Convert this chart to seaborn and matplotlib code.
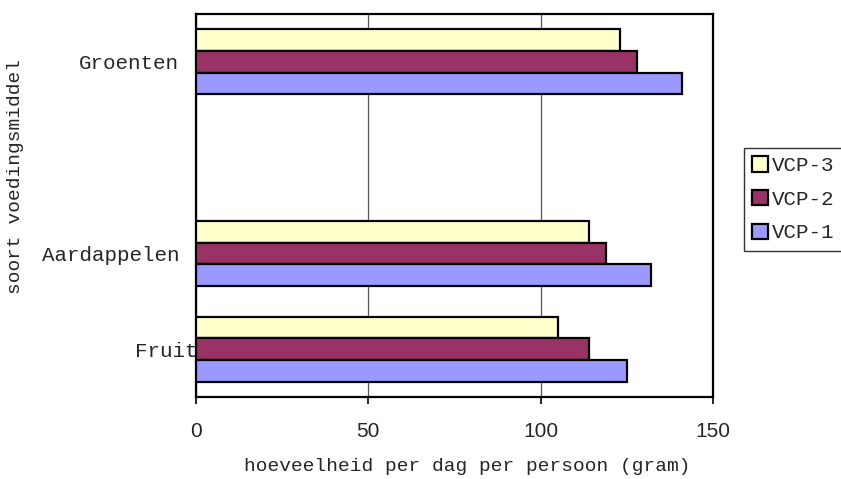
import matplotlib
matplotlib.use("Agg")
import matplotlib.pyplot as plt
import matplotlib.patches as mpatches
from matplotlib.transforms import ScaledTranslation
import pandas as pd
import seaborn as sns

# Food categories (top to bottom); the empty slot keeps the gap below Groenten
categories = ["Groenten", "", "Aardappelen", "Fruit"]
food = ["Groenten", "Aardappelen", "Fruit"]
series = ["VCP-3", "VCP-2", "VCP-1"]
vcp3 = [123, 114, 105]
vcp2 = [128, 119, 114]
vcp1 = [141, 132, 125]
x_ticks = [0, 50, 100, 150]
colors = {"VCP-3": "#FFFFCC", "VCP-2": "#993366", "VCP-1": "#9999FF"}

rows = []
for name, vals in zip(series, [vcp3, vcp2, vcp1]):
    for cat, v in zip(food, vals):
        rows.append({"soort": cat, "reeks": name, "gram": v})
df = pd.DataFrame(rows)

sns.set_style("white")
mono = "Liberation Mono"
sans = "Liberation Sans"

fig = plt.figure(figsize=(8.41, 4.79), dpi=100)
ax = fig.add_axes([196 / 841, 1 - 397 / 479, 517 / 841, 383 / 479])

sns.barplot(data=df, y="soort", x="gram", hue="reeks", order=categories,
            hue_order=series, palette=colors, orient="h", width=0.68,
            edgecolor="black", linewidth=1.6, saturation=1, ax=ax,
            legend=False, zorder=3)

ax.set_xlim(0, 150)
ax.set_xticks(x_ticks)
ax.set_xticklabels([str(t) for t in x_ticks], fontfamily=sans, fontsize=15)
ax.grid(axis="x", color="#555555", linewidth=0.9, zorder=0)
ax.grid(axis="y", visible=False)
ax.set_axisbelow(True)
for sp in ax.spines.values():
    sp.set_color("black")
    sp.set_linewidth(1.6)

ax.tick_params(axis="x", direction="out", length=5, width=1.2, color="black",
               pad=13, bottom=True)
ax.tick_params(axis="y", length=0, pad=12)
for lbl in ax.get_yticklabels():
    lbl.set_fontfamily(mono)
    lbl.set_fontsize(15)
    if lbl.get_text() == "Fruit":
        lbl.set_transform(lbl.get_transform() +
                          ScaledTranslation(0.18, 0, fig.dpi_scale_trans))

ax.set_xlabel("hoeveelheid per dag per persoon (gram)", fontfamily=mono,
              fontsize=14)
ax.xaxis.set_label_coords(0.524, -0.16)
ax.set_ylabel("soort voedingsmiddel", fontfamily=mono, fontsize=14)
ax.yaxis.set_label_coords(-0.333, 0.577)

handles = [mpatches.Patch(facecolor=colors[s], edgecolor="black",
                          linewidth=1.6, label=s) for s in series]
leg = fig.legend(handles=handles, loc="upper left",
                 bbox_to_anchor=(744 / 841, 1 - 148 / 479),
                 bbox_transform=fig.transFigure, frameon=True, fancybox=False,
                 prop={"family": mono, "size": 15}, handlelength=0.75,
                 handleheight=0.75, handletextpad=0.2, labelspacing=0.7,
                 borderpad=0.4, borderaxespad=0)
leg.get_frame().set_edgecolor("black")
leg.get_frame().set_linewidth(1.0)

fig.savefig("out.png", dpi=100)
